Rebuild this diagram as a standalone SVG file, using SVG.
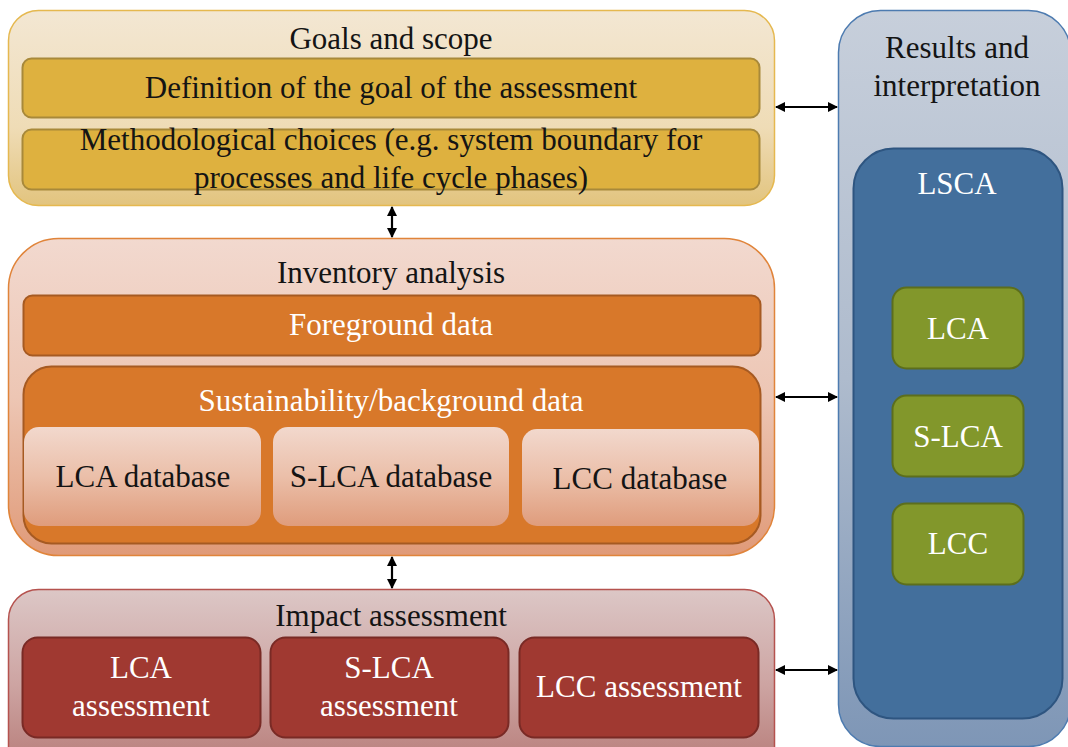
<svg xmlns="http://www.w3.org/2000/svg" width="1068" height="747" viewBox="0 0 1068 747">
<defs>
<linearGradient id="gGoals" x1="0" y1="0" x2="0" y2="1"><stop offset="0" stop-color="#f3e7d3"/><stop offset="0.6" stop-color="#efdcb6"/><stop offset="1" stop-color="#e2c47e"/></linearGradient>
<linearGradient id="gInv" x1="0" y1="0" x2="0" y2="1"><stop offset="0" stop-color="#f2d9cf"/><stop offset="0.5" stop-color="#edc6b4"/><stop offset="1" stop-color="#e09a78"/></linearGradient>
<linearGradient id="gDb" x1="0" y1="0" x2="0" y2="1"><stop offset="0" stop-color="#f2d8cd"/><stop offset="0.5" stop-color="#ebbfa9"/><stop offset="1" stop-color="#df9c7c"/></linearGradient>
<linearGradient id="gImp" x1="0" y1="0" x2="0" y2="1"><stop offset="0" stop-color="#dcc7c6"/><stop offset="0.5" stop-color="#cda4a2"/><stop offset="1" stop-color="#b47874"/></linearGradient>
<linearGradient id="gRes" x1="0" y1="0" x2="0" y2="1"><stop offset="0" stop-color="#c7cfdb"/><stop offset="0.5" stop-color="#aebbcd"/><stop offset="1" stop-color="#7e96b6"/></linearGradient>
<marker id="ah" viewBox="0 0 10 10" refX="9" refY="5" markerWidth="10" markerHeight="10" markerUnits="userSpaceOnUse" orient="auto-start-reverse"><path d="M0,0 L10,5 L0,10 z" fill="#000"/></marker>
</defs>
<style>
text{font-family:"Liberation Serif","Times New Roman",serif;font-size:31px;text-anchor:middle}
.dk{fill:#141414}
.wt{fill:#ffffff}
.conn line{stroke:#000;stroke-width:2.2;marker-start:url(#ah);marker-end:url(#ah)}
</style>

<g id="goals">
<rect x="8.5" y="10.5" width="766" height="195" rx="30" fill="url(#gGoals)" stroke="#e5b84f" stroke-width="1.5"/>
<text class="dk" x="391" y="49">Goals and scope</text>
</g>
<g id="goal-definition">
<rect x="22.5" y="58.5" width="737" height="59" rx="9" fill="#deb13f" stroke="#a8893a" stroke-width="2"/>
<text class="dk" x="391" y="98">Definition of the goal of the assessment</text>
</g>
<g id="method-choices">
<rect x="22.5" y="129.5" width="737" height="60" rx="9" fill="#deb13f" stroke="#a8893a" stroke-width="2"/>
<text class="dk" x="391" y="150">Methodological choices (e.g. system boundary for</text>
<text class="dk" x="391" y="188">processes and life cycle phases)</text>
</g>

<g id="inventory">
<rect x="8.5" y="238.5" width="766" height="317" rx="50" fill="url(#gInv)" stroke="#e0843a" stroke-width="1.5"/>
<text class="dk" x="391" y="283">Inventory analysis</text>
</g>
<g id="foreground">
<rect x="23.5" y="295.5" width="737" height="60" rx="9" fill="#d8782a" stroke="#a65a22" stroke-width="2"/>
<text class="wt" x="391" y="335">Foreground data</text>
</g>
<g id="background">
<rect x="23.5" y="366.5" width="737" height="177" rx="28" fill="#d8782a" stroke="#a65a22" stroke-width="2"/>
<text class="wt" x="391" y="411">Sustainability/background data</text>
</g>
<g id="lca-db">
<rect x="24" y="427" width="237" height="99" rx="15" fill="url(#gDb)"/>
<text class="dk" x="143" y="487">LCA database</text>
</g>
<g id="slca-db">
<rect x="273" y="427" width="236" height="99" rx="15" fill="url(#gDb)"/>
<text class="dk" x="391" y="487">S-LCA database</text>
</g>
<g id="lcc-db">
<rect x="522" y="429" width="237" height="97" rx="15" fill="url(#gDb)"/>
<text class="dk" x="640" y="489">LCC database</text>
</g>

<g id="impact">
<rect x="8.5" y="589.5" width="766" height="190" rx="30" fill="url(#gImp)" stroke="#b5524e" stroke-width="1.5"/>
<text class="dk" x="391" y="626">Impact assessment</text>
</g>
<g id="lca-assess">
<rect x="22.5" y="637.5" width="238" height="100" rx="15" fill="#a03931" stroke="#792a25" stroke-width="2"/>
<text class="wt" x="141" y="678">LCA</text>
<text class="wt" x="141" y="716">assessment</text>
</g>
<g id="slca-assess">
<rect x="270.5" y="637.5" width="238" height="100" rx="15" fill="#a03931" stroke="#792a25" stroke-width="2"/>
<text class="wt" x="389" y="678">S-LCA</text>
<text class="wt" x="389" y="716">assessment</text>
</g>
<g id="lcc-assess">
<rect x="519.5" y="637.5" width="239" height="100" rx="15" fill="#a03931" stroke="#792a25" stroke-width="2"/>
<text class="wt" x="639" y="697">LCC assessment</text>
</g>

<g id="results">
<rect x="838.5" y="10.5" width="232" height="736" rx="42" fill="url(#gRes)" stroke="#4d7bb0" stroke-width="1.5"/>
<text class="dk" x="957" y="58">Results and</text>
<text class="dk" x="957" y="96">interpretation</text>
</g>
<g id="lsca">
<rect x="853.5" y="148.5" width="209" height="570" rx="40" fill="#436f9c" stroke="#2e5580" stroke-width="2"/>
<text class="wt" x="957" y="194">LSCA</text>
</g>
<g id="lsca-lca">
<rect x="892.5" y="287.5" width="131" height="81" rx="14" fill="#82972b" stroke="#5c6e1d" stroke-width="2"/>
<text class="wt" x="958" y="339">LCA</text>
</g>
<g id="lsca-slca">
<rect x="892.5" y="395.5" width="131" height="81" rx="14" fill="#82972b" stroke="#5c6e1d" stroke-width="2"/>
<text class="wt" x="958" y="447">S-LCA</text>
</g>
<g id="lsca-lcc">
<rect x="892.5" y="503.5" width="131" height="81" rx="14" fill="#82972b" stroke="#5c6e1d" stroke-width="2"/>
<text class="wt" x="958" y="554">LCC</text>
</g>

<g id="connectors" class="conn">
<line x1="776" y1="107" x2="837" y2="107"/>
<line x1="776" y1="397" x2="837" y2="397"/>
<line x1="776" y1="670" x2="837" y2="670"/>
<line x1="392" y1="207" x2="392" y2="237"/>
<line x1="392" y1="557" x2="392" y2="588"/>
</g>
</svg>
